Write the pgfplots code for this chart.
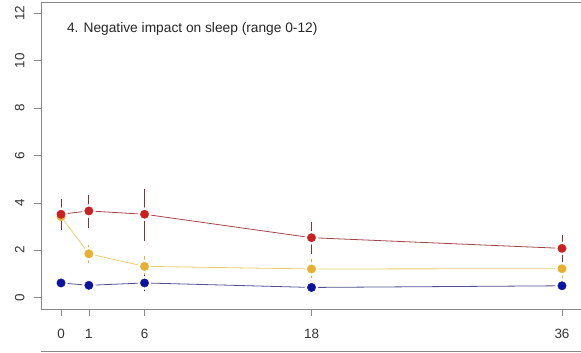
\documentclass[border=0pt]{standalone}
\usepackage{pgfplots}
\pgfplotsset{compat=1.18}
\usepackage{fontspec}
\setmainfont{Liberation Sans}
\definecolor{redpt}{HTML}{CC2020}
\definecolor{redln}{HTML}{A04848}
\definecolor{redeb}{HTML}{8E3030}
\definecolor{yelpt}{HTML}{E8B030}
\definecolor{yelln}{HTML}{E8CC70}
\definecolor{yeleb}{HTML}{D8B040}
\definecolor{blupt}{HTML}{0A14A0}
\definecolor{bluln}{HTML}{505090}
\definecolor{blueb}{HTML}{202080}
\definecolor{axgray}{HTML}{8A8A8A}
\begin{document}
\begin{tikzpicture}[x=1bp,y=1bp]
\begin{axis}[
  at={(41bp,43bp)}, anchor=south west,
  scale only axis, width=541bp, height=307bp,
  xmin=-1.44, xmax=37.44, ymin=-0.48, ymax=12.48,
  xtick={0,2,6,18,36}, xticklabels={0,1,6,18,36}, ytick={0,2,4,6,8,10,12},
  axis line style={axgray, line width=0.7pt},
  tick style={axgray, line width=0.7pt},
  tick align=outside, major tick length=7bp,
  xtick pos=bottom, ytick pos=left,
  xticklabel style={font=\fontsize{13.5}{15}\selectfont, text=black!80, yshift=-10bp},
  yticklabel style={font=\fontsize{13.5}{15}\selectfont, text=black!80, xshift=-6bp, rotate=90, anchor=south},
  /pgf/number format/assume math mode=true,
  clip=false,
]
% lines
\addplot[redln, line width=0.8pt] coordinates {(0,3.52) (2,3.66) (6,3.52) (18,2.53) (36,2.08)};
\addplot[yelln, line width=0.8pt] coordinates {(0,3.42) (2,1.85) (6,1.32) (18,1.21) (36,1.22)};
\addplot[bluln, line width=0.8pt] coordinates {(0,0.62) (2,0.52) (6,0.62) (18,0.43) (36,0.50)};
% white halos (gaps like type="b")
\addplot[white, only marks, mark=*, mark size=6.5bp] coordinates {(0,3.52) (2,3.66) (6,3.52) (18,2.53) (36,2.08)};
\addplot[white, only marks, mark=*, mark size=6.5bp] coordinates {(2,1.85) (6,1.32) (18,1.21) (36,1.22)};
\addplot[white, only marks, mark=*, mark size=6.5bp] coordinates {(0,0.62) (2,0.52) (6,0.62) (18,0.43) (36,0.50)};
% error bars
\addplot[draw=none, mark=none, error bars/.cd, y dir=both, y explicit, error mark=none, error bar style={yeleb, line width=0.8pt}]
  coordinates {(0,3.42) +=(0,0.5) -=(0,0.5) (2,1.85) +=(0,0.38) -=(0,0.38) (6,1.32) +=(0,0.45) -=(0,0.39) (18,1.21) +=(0,0.4) -=(0,0.4) (36,1.22) +=(0,0.4) -=(0,0.4)};
\addplot[draw=none, mark=none, error bars/.cd, y dir=both, y explicit, error mark=none, error bar style={blueb, line width=0.8pt}]
  coordinates {(0,0.62) +=(0,0.15) -=(0,0.15) (2,0.52) +=(0,0.15) -=(0,0.15) (6,0.62) +=(0,0.35) -=(0,0.35) (18,0.43) +=(0,0.2) -=(0,0.2) (36,0.50) +=(0,0.2) -=(0,0.2)};
\addplot[draw=none, mark=none, error bars/.cd, y dir=both, y explicit, error mark=none, error bar style={redeb, line width=0.8pt}]
  coordinates {(0,3.52) +=(0,0.63) -=(0,0.66) (2,3.66) +=(0,0.68) -=(0,0.71) (6,3.52) +=(0,1.06) -=(0,1.11) (18,2.53) +=(0,0.66) -=(0,0.68) (36,2.08) +=(0,0.56) -=(0,0.62)};
% points
\addplot[only marks, mark=*, mark size=4.2bp, mark options={fill=yelpt, draw=yelpt}] coordinates {(0,3.42) (2,1.85) (6,1.32) (18,1.21) (36,1.22)};
\addplot[only marks, mark=*, mark size=4.2bp, mark options={fill=blupt, draw=blupt}] coordinates {(0,0.62) (2,0.52) (6,0.62) (18,0.43) (36,0.50)};
\addplot[only marks, mark=*, mark size=4.2bp, mark options={fill=redpt, draw=redpt}] coordinates {(0,3.52) (2,3.66) (6,3.52) (18,2.53) (36,2.08)};
\node[anchor=west, inner sep=0pt, font=\fontsize{13.8}{15}\selectfont, text=black!85] at (axis cs:0.42,11.35) {4. Negative impact on sleep (range 0-12)};
\end{axis}
\draw[axgray, line width=0.7pt] (41,1) -- (590,1);
\pgfresetboundingbox
\useasboundingbox (0,0) rectangle (581,352);
\end{tikzpicture}
\end{document}
